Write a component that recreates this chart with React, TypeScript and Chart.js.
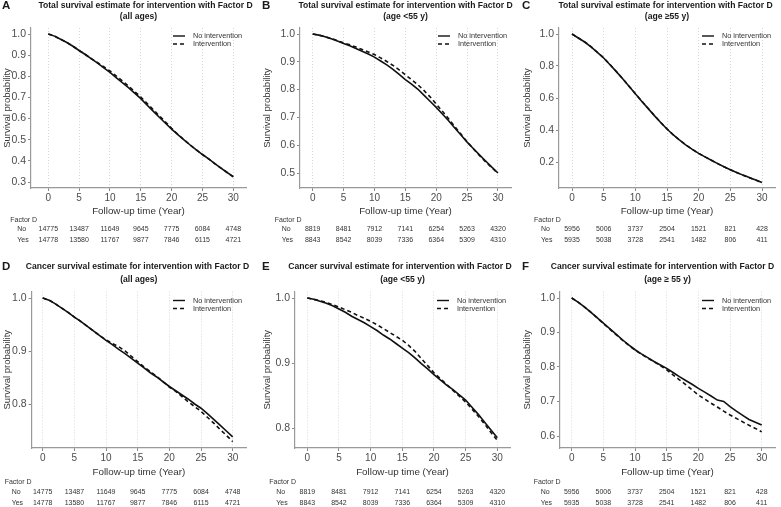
import React, { useEffect, useRef } from 'react';
import { Chart, registerables } from 'chart.js';
Chart.register(...registerables);

// ---------- DATA ----------
const years = [0,1,2,3,4,5,6,7,8,9,10,11,12,13,14,15,16,17,18,19,20,21,22,23,24,25,26,27,28,29,30];
const timeTicks = [0, 5, 10, 15, 20, 25, 30];

// Total survival, all ages
const totalAllNo = [1.000,0.990,0.975,0.960,0.942,0.922,0.903,0.882,0.862,0.840,0.818,0.794,0.770,0.746,0.720,0.694,0.664,0.635,0.606,0.578,0.550,0.524,0.499,0.475,0.452,0.430,0.409,0.387,0.366,0.345,0.325];
const totalAllInt = [1.000,0.990,0.975,0.960,0.942,0.922,0.903,0.883,0.864,0.845,0.825,0.802,0.778,0.754,0.728,0.702,0.672,0.643,0.613,0.584,0.554,0.526,0.500,0.475,0.452,0.430,0.409,0.387,0.366,0.345,0.324];
// Total survival, age <55
const totalYoungNo = [1.000,0.996,0.990,0.983,0.975,0.966,0.958,0.948,0.938,0.928,0.917,0.903,0.889,0.873,0.855,0.836,0.820,0.802,0.780,0.758,0.736,0.712,0.688,0.662,0.637,0.611,0.588,0.565,0.543,0.521,0.500];
const totalYoungInt = [1.000,0.996,0.990,0.984,0.976,0.968,0.961,0.953,0.944,0.935,0.926,0.914,0.901,0.887,0.871,0.853,0.836,0.818,0.797,0.774,0.748,0.722,0.695,0.667,0.640,0.612,0.587,0.563,0.540,0.519,0.498];
// Total survival, age >=55
const totalOldNo = [1.000,0.975,0.950,0.920,0.885,0.850,0.808,0.765,0.720,0.673,0.626,0.580,0.535,0.490,0.447,0.406,0.369,0.336,0.306,0.279,0.254,0.232,0.211,0.190,0.170,0.152,0.135,0.118,0.103,0.088,0.072];
const totalOldInt = [1.000,0.975,0.951,0.921,0.886,0.851,0.809,0.766,0.721,0.674,0.627,0.581,0.536,0.491,0.448,0.407,0.370,0.337,0.306,0.279,0.254,0.232,0.211,0.190,0.170,0.152,0.134,0.117,0.102,0.087,0.071];
// Cancer survival, all ages
const cancerAllNo = [1.000,0.996,0.989,0.981,0.973,0.964,0.956,0.947,0.938,0.929,0.920,0.912,0.903,0.895,0.886,0.877,0.868,0.859,0.851,0.842,0.833,0.825,0.817,0.809,0.800,0.792,0.782,0.771,0.760,0.749,0.738];
const cancerAllInt = [1.000,0.996,0.989,0.981,0.973,0.964,0.956,0.947,0.938,0.929,0.921,0.914,0.908,0.900,0.890,0.880,0.870,0.861,0.852,0.842,0.832,0.824,0.814,0.804,0.795,0.786,0.775,0.764,0.752,0.741,0.729];
// Cancer survival, age <55
const cancerYoungNo = [1.000,0.998,0.995,0.992,0.988,0.983,0.978,0.972,0.967,0.962,0.956,0.950,0.943,0.937,0.930,0.923,0.916,0.908,0.899,0.891,0.882,0.874,0.866,0.859,0.851,0.843,0.832,0.821,0.809,0.797,0.785];
const cancerYoungInt = [1.000,0.998,0.996,0.993,0.990,0.986,0.982,0.978,0.973,0.969,0.964,0.959,0.953,0.947,0.941,0.935,0.927,0.918,0.907,0.896,0.885,0.876,0.867,0.858,0.849,0.840,0.829,0.818,0.806,0.793,0.781];
// Cancer survival, age >=55
const cancerOldNo = [1.000,0.988,0.974,0.959,0.943,0.927,0.911,0.895,0.879,0.864,0.850,0.838,0.827,0.816,0.806,0.796,0.784,0.772,0.761,0.750,0.738,0.727,0.716,0.704,0.700,0.685,0.672,0.660,0.648,0.640,0.632];
const cancerOldInt = [1.000,0.988,0.974,0.959,0.943,0.926,0.910,0.894,0.878,0.863,0.849,0.837,0.826,0.815,0.804,0.792,0.777,0.763,0.749,0.734,0.719,0.707,0.695,0.684,0.672,0.661,0.651,0.641,0.631,0.622,0.612];

// Numbers at risk
const riskAllNo = [14775, 13487, 11649, 9645, 7775, 6084, 4748];
const riskAllYes = [14778, 13580, 11767, 9877, 7846, 6115, 4721];
const riskYoungNo = [8819, 8481, 7912, 7141, 6254, 5263, 4320];
const riskYoungYes = [8843, 8542, 8039, 7336, 6364, 5309, 4310];
const riskOldNo = [5956, 5006, 3737, 2504, 1521, 821, 428];
const riskOldYes = [5935, 5038, 3728, 2541, 1482, 806, 411];

const legendLabels = ['No intervention', 'Intervention'];
const riskTitle = 'Factor D';
const riskRowLabels = ['No', 'Yes'];
const xTitle = 'Follow-up time (Year)';
const yTitle = 'Survival probability';

const FONT = "'Liberation Sans', Arial, Helvetica, sans-serif";

type Row = {
  h: number; plotTop: number; plotBottom: number;
  tY1: number; tY2: number; xTitleY: number; riskY: number[]; legY: number[];
};
const topRow: Row = { h: 262, plotTop: 28, plotBottom: 188, tY1: 6, tY2: 17, xTitleY: 211, riskY: [220, 229.5, 240], legY: [36, 44] };
const botRow: Row = { h: 245, plotTop: 29.5, plotBottom: 186, tY1: 5, tY2: 18, xTitleY: 210, riskY: [220, 230, 241], legY: [38.5, 46.5] };

type Panel = {
  left: number; top: number; w: number; row: Row;
  letter: string; title1: string; title2: string; t1c: number;
  no: number[]; int: number[]; rNo: number[]; rYes: number[];
  pl: number; pr: number; x0: number; x30: number;
  yA: [number, number]; yB: [number, number]; yStep: number; yFirst: number;
};

const panels: Panel[] = [
  { left: 0, top: 0, w: 260, row: topRow, letter: 'A', title1: 'Total survival estimate for intervention with Factor D', title2: '(all ages)', t1c: 145.5,
    no: totalAllNo, int: totalAllInt, rNo: riskAllNo, rYes: riskAllYes, pl: 31, pr: 246, x0: 48.3, x30: 233.3, yA: [1.0, 34], yB: [0.3, 182], yStep: 0.1, yFirst: 0.3 },
  { left: 260, top: 0, w: 260, row: topRow, letter: 'B', title1: 'Total survival estimate for intervention with Factor D', title2: '(age <55 y)', t1c: 145.5,
    no: totalYoungNo, int: totalYoungInt, rNo: riskYoungNo, rYes: riskYoungYes, pl: 40, pr: 251, x0: 52.7, x30: 238, yA: [1.0, 34], yB: [0.5, 173], yStep: 0.1, yFirst: 0.5 },
  { left: 520, top: 0, w: 261, row: topRow, letter: 'C', title1: 'Total survival estimate for intervention with Factor D', title2: '(age \u226555 y)', t1c: 145.5,
    no: totalOldNo, int: totalOldInt, rNo: riskOldNo, rYes: riskOldYes, pl: 39, pr: 255, x0: 52, x30: 242, yA: [1.0, 34], yB: [0.2, 162], yStep: 0.2, yFirst: 0.2 },
  { left: 0, top: 262, w: 260, row: botRow, letter: 'D', title1: 'Cancer survival estimate for intervention with Factor D', title2: '(all ages)', t1c: 137.5,
    no: cancerAllNo, int: cancerAllInt, rNo: riskAllNo, rYes: riskAllYes, pl: 31.7, pr: 246, x0: 42.7, x30: 232.7, yA: [1.0, 36], yB: [0.8, 142], yStep: 0.1, yFirst: 0.8 },
  { left: 260, top: 262, w: 260, row: botRow, letter: 'E', title1: 'Cancer survival estimate for intervention with Factor D', title2: '(age <55 y)', t1c: 140,
    no: cancerYoungNo, int: cancerYoungInt, rNo: riskYoungNo, rYes: riskYoungYes, pl: 35, pr: 250, x0: 47.3, x30: 237.3, yA: [1.0, 36], yB: [0.8, 166], yStep: 0.1, yFirst: 0.8 },
  { left: 520, top: 262, w: 261, row: botRow, letter: 'F', title1: 'Cancer survival estimate for intervention with Factor D', title2: '(age \u2265 55 y)', t1c: 142.5,
    no: cancerOldNo, int: cancerOldInt, rNo: riskOldNo, rYes: riskOldYes, pl: 40, pr: 255, x0: 51.7, x30: 241.7, yA: [1.0, 36], yB: [0.6, 174], yStep: 0.1, yFirst: 0.6 },
];

function SurvPanel({ p }: { p: Panel }) {
  const ref = useRef<HTMLCanvasElement>(null);
  useEffect(() => {
    const canvas = ref.current!;
    const r = p.row;
    const H = r.h;
    const ppy = (p.x30 - p.x0) / 30;
    const xMin = (p.pl - p.x0) / ppy;
    const xMax = 30 + (p.pr - p.x30) / ppy;
    const vpp = (p.yA[0] - p.yB[0]) / (p.yB[1] - p.yA[1]);
    const yMax = p.yA[0] + (p.yA[1] - r.plotTop) * vpp;
    const yMin = p.yB[0] - (r.plotBottom - p.yB[1]) * vpp;

    const extras = {
      id: 'extras',
      afterDraw(chart: any) {
        const ctx = chart.ctx as CanvasRenderingContext2D;
        const ca = chart.chartArea;
        const xs = chart.scales.x;
        ctx.save();
        ctx.fillStyle = '#1a1a1a';
        ctx.textBaseline = 'middle';
        // letter
        ctx.font = `bold 11.5px ${FONT}`;
        ctx.textAlign = 'left';
        ctx.fillText(p.letter, 2, r.tY1);
        // titles
        ctx.font = `bold 8.6px ${FONT}`;
        ctx.textAlign = 'center';
        ctx.fillText(p.title1, p.t1c, r.tY1);
        ctx.fillText(p.title2, (ca.left + ca.right) / 2, r.tY2);
        // y title
        ctx.save();
        ctx.font = `9.5px ${FONT}`;
        ctx.fillStyle = '#333';
        ctx.translate(7.5, (ca.top + ca.bottom) / 2);
        ctx.rotate(-Math.PI / 2);
        ctx.fillText(yTitle, 0, 0);
        ctx.restore();
        // x title
        ctx.font = `9.8px ${FONT}`;
        ctx.fillStyle = '#333';
        ctx.textAlign = 'center';
        ctx.fillText(xTitle, (ca.left + ca.right) / 2, r.xTitleY);
        // legend
        const lx1 = ca.right - 73, lx2 = ca.right - 61, tx = ca.right - 53;
        ctx.strokeStyle = '#111';
        ctx.lineWidth = 1.4;
        [0, 1].forEach((i) => {
          ctx.beginPath();
          ctx.setLineDash(i === 0 ? [] : [4, 3]);
          ctx.moveTo(lx1, r.legY[i]);
          ctx.lineTo(lx2, r.legY[i]);
          ctx.stroke();
        });
        ctx.setLineDash([]);
        ctx.font = `7.3px ${FONT}`;
        ctx.textAlign = 'left';
        ctx.fillStyle = '#333';
        ctx.fillText(legendLabels[0], tx, r.legY[0]);
        ctx.fillText(legendLabels[1], tx, r.legY[1]);
        // risk table
        ctx.font = `7px ${FONT}`;
        ctx.fillText(riskTitle, p.x0 - 38, r.riskY[0]);
        ctx.fillText(riskRowLabels[0], p.x0 - 31, r.riskY[1]);
        ctx.fillText(riskRowLabels[1], p.x0 - 31, r.riskY[2]);
        ctx.textAlign = 'center';
        timeTicks.forEach((t, i) => {
          const x = xs.getPixelForValue(t);
          ctx.fillText(String(p.rNo[i]), x, r.riskY[1]);
          ctx.fillText(String(p.rYes[i]), x, r.riskY[2]);
        });
        ctx.restore();
      },
    };

    const chart = new Chart(canvas, {
      type: 'line',
      data: {
        datasets: [
          { label: legendLabels[0], data: years.map((t, i) => ({ x: t, y: p.no[i] })), borderColor: '#111', borderWidth: 1.6, pointRadius: 0, tension: 0, fill: false },
          { label: legendLabels[1], data: years.map((t, i) => ({ x: t, y: p.int[i] })), borderColor: '#111', borderWidth: 1.6, borderDash: [4, 3], pointRadius: 0, tension: 0, fill: false },
        ],
      },
      options: {
        animation: false,
        responsive: false,
        devicePixelRatio: 1,
        layout: { padding: { top: r.plotTop, right: p.w - p.pr, left: 0, bottom: 0 } },
        plugins: { legend: { display: false }, title: { display: false }, tooltip: { enabled: false } },
        scales: {
          x: {
            type: 'linear', min: xMin, max: xMax,
            afterFit: (s: any) => { s.height = H - r.plotBottom; },
            ticks: { stepSize: 5, includeBounds: false, autoSkip: false, maxRotation: 0, padding: 1, color: '#4d4d4d', font: { family: FONT, size: 10 } },
            grid: { color: '#d6d6d6', lineWidth: 1, drawTicks: true, tickLength: 3, tickColor: '#888', tickBorderDash: [] },
            border: { display: true, color: '#999', width: 1.2, dash: [1, 2] },
          },
          y: {
            type: 'linear', min: yMin, max: yMax,
            afterFit: (s: any) => { s.width = p.pl; },
            ticks: { stepSize: p.yStep, includeBounds: false, padding: 2, color: '#4d4d4d', font: { family: FONT, size: 10.5 },
              callback: (v: any) => Number(v).toFixed(1) },
            afterBuildTicks: (s: any) => {
              const out: any[] = [];
              for (let v = p.yFirst; v <= 1.0001; v += p.yStep) out.push({ value: Math.round(v * 10) / 10 });
              s.ticks = out;
            },
            grid: { drawOnChartArea: false, drawTicks: true, tickLength: 3, tickColor: '#888' },
            border: { display: true, color: '#999', width: 1.2 },
          },
        },
      } as any,
      plugins: [extras],
    });
    return () => chart.destroy();
  }, [p]);
  return (
    <canvas ref={ref} width={p.w} height={p.row.h}
      style={{ position: 'absolute', left: p.left, top: p.top, width: p.w, height: p.row.h, display: 'block' }} />
  );
}

export default function App() {
  return (
    <div style={{ position: 'fixed', left: 0, top: 0, width: 781, height: 507, background: '#fff', overflow: 'hidden' }}>
      {panels.map((p) => <SurvPanel key={p.letter} p={p} />)}
    </div>
  );
}
